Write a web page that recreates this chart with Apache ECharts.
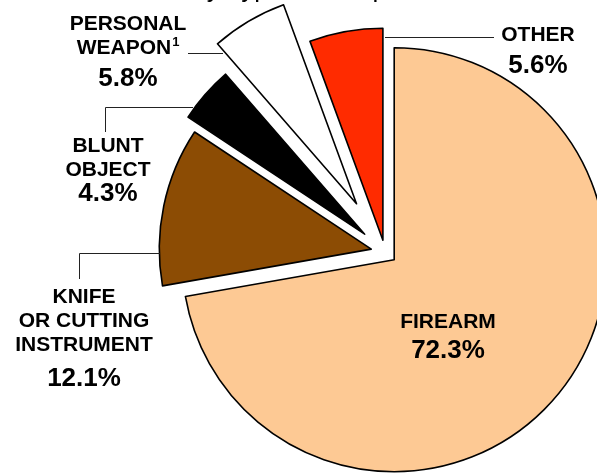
<!DOCTYPE html>
<html>
<head>
<meta charset="utf-8">
<script src="https://cdn.jsdelivr.net/npm/echarts@6/dist/echarts.min.js"></script>
<style>
	html, body { margin: 0; padding: 0; background: #fff; }
	#chart { width: 597px; height: 473px; }
</style>
</head>
<body>
<div id="chart"></div>
<script>
// weapon categories, clockwise from 12 o'clock
var categories = ['FIREARM', 'KNIFE OR CUTTING INSTRUMENT', 'BLUNT OBJECT', 'PERSONAL WEAPON', 'OTHER'];
var shares = [72.3, 12.1, 4.3, 5.8, 5.6];
var labelLines = [['FIREARM'], ['KNIFE', 'OR CUTTING', 'INSTRUMENT'], ['BLUNT', 'OBJECT'], ['PERSONAL', 'WEAPON{s|1}'], ['OTHER']];
var subtitle = 'by Type of Weapon';

// styling
var colors = ['#FDC994', '#8C4C04', '#000000', '#FFFFFF', '#FF2B00'];
var explode = [12, 14, 27, 56, 12];
// label anchors: [center x, first line y, percent y]
var labelPos = [[448, 322, 351], [84, 297, 379], [108, 146, 194], [128, 24, 79], [538, 35, 66]];
var leaders = [
	null,
	[[79.5, 279], [79.5, 253.5], [160, 253.5]],
	[[105.5, 132], [105.5, 107.5], [193, 107.5]],
	[[188, 53.5], [223, 53.5]],
	[[385, 37.5], [494, 37.5]]
];

var font = '"Liberation Sans", Arial, sans-serif';
var myChart = echarts.init(document.getElementById('chart'), null, { renderer: 'canvas' });

// one pie per slice so every slice can be pulled out by its own amount
var series = [];
for (var i = 0; i < categories.length; i++) {
	var data = [];
	for (var j = 0; j < categories.length; j++) {
		data.push({
			name: categories[j],
			value: shares[j],
			selected: j === i,
			itemStyle: j === i ?
				{ color: colors[j], borderColor: '#000', borderWidth: 1.6 } :
				{ color: 'rgba(0,0,0,0)', borderWidth: 0 }
		});
	}
	series.push({
		type: 'pie',
		center: [385, 252],
		radius: 212,
		startAngle: 90,
		clockwise: true,
		silent: true,
		selectedMode: 'single',
		selectedOffset: explode[i],
		label: { show: false },
		labelLine: { show: false },
		emphasis: { disabled: true },
		z: 2,
		data: data
	});
}

var graphics = [];
//cut-off title line at the very top
graphics.push({
	type: 'text', x: 304, y: 3, z: 10,
	style: { text: subtitle, font: '26px ' + font, fill: '#000', align: 'center', verticalAlign: 'bottom' }
});
for (var k = 0; k < categories.length; k++) {
	var p = labelPos[k];
	graphics.push({
		type: 'text', x: p[0], y: p[1] - 12, z: 10,
		style: {
			text: labelLines[k].join('\n'),
			font: 'bold 21px ' + font,
			lineHeight: 24,
			fill: '#000', align: 'center', verticalAlign: 'top',
			rich: {
				s: { font: 'bold 13px ' + font, fill: '#000', padding: [0, 0, 12, 1] }
			}
		}
	});
	graphics.push({
		type: 'text', x: p[0], y: p[2], z: 10,
		style: {
			text: shares[k].toFixed(1) + '%',
			font: 'bold 26px ' + font,
			fill: '#000', align: 'center', verticalAlign: 'middle'
		}
	});
	if (leaders[k]) {
		graphics.push({
			type: 'polyline', z: 10,
			shape: { points: leaders[k] },
			style: { stroke: '#222', lineWidth: 1, fill: null }
		});
	}
}

myChart.setOption({
	backgroundColor: '#fff',
	animation: false,
	series: series,
	graphic: graphics
});
</script>
</body>
</html>
